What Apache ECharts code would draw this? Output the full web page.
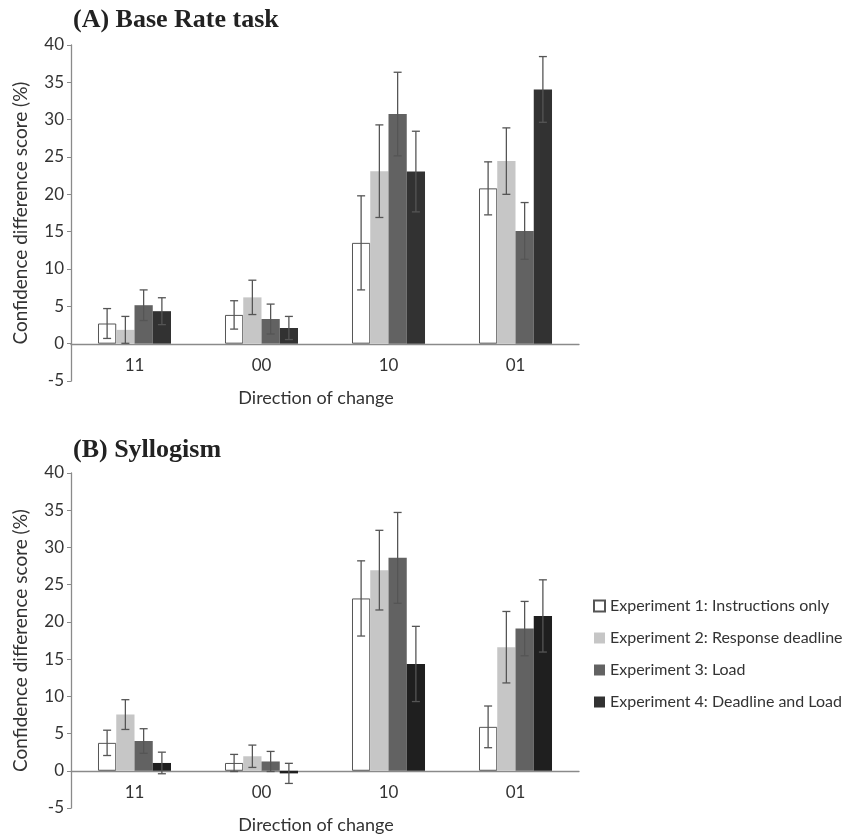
<!DOCTYPE html>
<html>
<head>
<meta charset="utf-8">
<script src="https://cdn.jsdelivr.net/npm/echarts@6/dist/echarts.min.js"></script>
<style>
  html, body { margin: 0; padding: 0; background: #fff; }
  #chart { width: 845px; height: 835px; }
</style>
</head>
<body>
<div id="chart"></div>
<script>
var categories = ["11", "00", "10", "01"];
var expNames = [
  "Experiment 1: Instructions only",
  "Experiment 2: Response deadline",
  "Experiment 3: Load",
  "Experiment 4: Deadline and Load"
];
var yTicks = { min: -5, max: 40, step: 5 };

// (A) Base Rate task, one row per experiment
var baseRateMeans = [
  [2.7, 3.85, 13.5, 20.8],
  [1.85, 6.2, 23.1, 24.45],
  [5.15, 3.3, 30.75, 15.1],
  [4.35, 2.1, 23.05, 34.05]
];
var baseRateErrors = [
  [2.0, 1.9, 6.3, 3.55],
  [1.8, 2.3, 6.2, 4.45],
  [2.05, 2.0, 5.6, 3.8],
  [1.8, 1.55, 5.4, 4.4]
];

// (B) Syllogism
var syllogismMeans = [
  [3.75, 1.05, 23.15, 5.9],
  [7.55, 1.95, 26.95, 16.6],
  [4.0, 1.25, 28.6, 19.1],
  [1.05, -0.35, 14.35, 20.8]
];
var syllogismErrors = [
  [1.7, 1.15, 5.05, 2.8],
  [2.0, 1.5, 5.35, 4.8],
  [1.65, 1.35, 6.1, 3.65],
  [1.45, 1.35, 5.05, 4.85]
];

var font = "Lato";
var barColors = [
  ["#ffffff", "#c6c6c6", "#626262", "#323232"],
  ["#ffffff", "#c6c6c6", "#626262", "#1f1f1f"]
];
var catGap = 0.425;
var gridH = 336;
// shift x axis up so it sits on the zero line
var zeroOffset = -Math.round(gridH * (0 - yTicks.min) / (yTicks.max - yTicks.min));

function errorSeries(means, errs, si, axisIdx) {
  return {
    type: "custom",
    name: "err" + axisIdx + "_" + si,
    xAxisIndex: axisIdx,
    yAxisIndex: axisIdx,
    z: 5,
    silent: true,
    data: means[si].map(function (m, i) {
      return [i, m, errs[si][i]];
    }),
    renderItem: function (params, api) {
      var c = api.value(0);
      var m = api.value(1);
      var e = api.value(2);
      var band = api.size([1, 0])[0];
      var bw = (band * (1 - catGap)) / 4;
      var x = api.coord([c, 0])[0] + (si - 1.5) * bw;
      var yt = api.coord([c, m + e])[1];
      var yb = api.coord([c, m - e])[1];
      var st = { stroke: "#555", lineWidth: 1.3 };
      return {
        type: "group",
        children: [
          { type: "line", shape: { x1: x, y1: yt, x2: x, y2: yb }, style: st },
          { type: "line", shape: { x1: x - 4, y1: yt, x2: x + 4, y2: yt }, style: st },
          { type: "line", shape: { x1: x - 4, y1: yb, x2: x + 4, y2: yb }, style: st }
        ]
      };
    }
  };
}

function barSeries(means, si, axisIdx) {
  var col = barColors[axisIdx][si];
  return {
    type: "bar",
    name: expNames[si],
    xAxisIndex: axisIdx,
    yAxisIndex: axisIdx,
    data: means[si],
    barGap: "0%",
    barCategoryGap: catGap * 100 + "%",
    itemStyle: {
      color: col,
      borderColor: si === 0 ? "#555" : col,
      borderWidth: si === 0 ? 1 : 0
    }
  };
}

function xAxis(gi) {
  return {
    type: "category",
    gridIndex: gi,
    data: categories,
    offset: zeroOffset,
    axisLine: { onZero: false, lineStyle: { color: "#8a8a8a", width: 1.3 } },
    axisTick: { show: false },
    axisLabel: { color: "#333", fontFamily: font, fontSize: 17, margin: 13 },
    name: "Direction of change",
    nameLocation: "middle",
    nameGap: 45,
    nameTextStyle: { color: "#333", fontFamily: font, fontSize: 18, padding: [0, 18, 0, 0] }
  };
}

function yAxis(gi) {
  return {
    type: "value",
    gridIndex: gi,
    min: yTicks.min,
    max: yTicks.max,
    interval: yTicks.step,
    splitLine: { show: false },
    axisLine: { show: true, lineStyle: { color: "#8a8a8a", width: 1.3 } },
    axisTick: { show: true, length: 4, lineStyle: { color: "#8a8a8a" } },
    axisLabel: { color: "#333", fontFamily: font, fontSize: 17, margin: 7 },
    name: "Confidence difference score (%)",
    nameLocation: "middle",
    nameRotate: 90,
    nameGap: 41,
    nameTextStyle: { color: "#333", fontFamily: font, fontSize: 19 }
  };
}

var series = [];
for (var s = 0; s < 4; s++) series.push(barSeries(baseRateMeans, s, 0));
for (var s = 0; s < 4; s++) series.push(barSeries(syllogismMeans, s, 1));
for (var s = 0; s < 4; s++) series.push(errorSeries(baseRateMeans, baseRateErrors, s, 0));
for (var s = 0; s < 4; s++) series.push(errorSeries(syllogismMeans, syllogismErrors, s, 1));

var chart = echarts.init(document.getElementById("chart"), null, { renderer: "canvas" });
chart.setOption({
  backgroundColor: "#fff",
  animation: false,
  title: [
    {
      text: "(A) Base Rate task",
      left: 68,
      top: 2,
      textStyle: { fontFamily: "Liberation Serif", fontWeight: "bold", fontSize: 26, color: "#222" }
    },
    {
      text: "(B) Syllogism",
      left: 68,
      top: 432,
      textStyle: { fontFamily: "Liberation Serif", fontWeight: "bold", fontSize: 26, color: "#222" }
    }
  ],
  legend: {
    data: expNames.map(function (n) {
      return { name: n, icon: "rect" };
    }),
    orient: "vertical",
    left: 588,
    top: 593,
    itemWidth: 11,
    itemHeight: 11,
    itemGap: 16,
    textStyle: { color: "#333", fontFamily: font, fontSize: 16 }
  },
  grid: [
    { left: 71, top: 45, width: 508, height: gridH },
    { left: 71, top: 473, width: 508, height: gridH }
  ],
  xAxis: [xAxis(0), xAxis(1)],
  yAxis: [yAxis(0), yAxis(1)],
  series: series
});
</script>
</body>
</html>
